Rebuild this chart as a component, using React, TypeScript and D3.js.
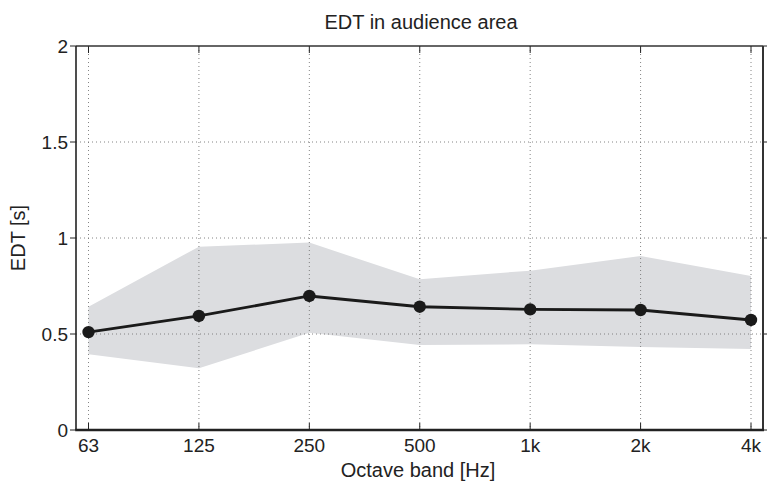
import React from "react";
import * as d3 from "d3";

const bands = ["63", "125", "250", "500", "1k", "2k", "4k"];
const meanEDT = [0.51, 0.594, 0.698, 0.642, 0.628, 0.625, 0.573];
const upperEDT = [0.642, 0.955, 0.976, 0.785, 0.83, 0.906, 0.802];
const lowerEDT = [0.394, 0.321, 0.507, 0.443, 0.446, 0.432, 0.422];
const yTicks = [0, 0.5, 1, 1.5, 2];
const yTickLabels = ["0", "0.5", "1", "1.5", "2"];

const W = 768;
const H = 485;
const left = 76;
const right = 763;
const top = 46;
const bottom = 430;

export default function App() {
  const x = d3.scalePoint<string>().domain(bands).range([88.5, 751]);
  const y = d3.scaleLinear().domain([0, 2]).range([bottom, top]);
  const font = "'Liberation Sans', Arial, Helvetica, sans-serif";

  const rows = bands.map((b, i) => ({ b, m: meanEDT[i], u: upperEDT[i], l: lowerEDT[i] }));
  const area = d3
    .area<any>()
    .x((d) => x(d.b) as number)
    .y0((d) => y(d.l))
    .y1((d) => y(d.u));
  const line = d3
    .line<any>()
    .x((d) => x(d.b) as number)
    .y((d) => y(d.m));

  return (
    <svg
      width={W}
      height={H}
      style={{ position: "absolute", left: 0, top: 0, background: "#fff" }}
      fontFamily={font}
    >
      <rect x={0} y={0} width={W} height={H} fill="#fff" />
      <path d={area(rows) as string} fill="#dcdde0" />
      {/* grid */}
      {bands.map((b) => (
        <line
          key={"gx" + b}
          x1={x(b)}
          x2={x(b)}
          y1={top}
          y2={bottom}
          stroke="#777"
          strokeWidth={0.9}
          strokeDasharray="1,3"
        />
      ))}
      {yTicks.slice(1, -1).map((t) => (
        <line
          key={"gy" + t}
          x1={left}
          x2={right}
          y1={y(t)}
          y2={y(t)}
          stroke="#777"
          strokeWidth={0.9}
          strokeDasharray="1,3"
        />
      ))}
      {/* x ticks inward */}
      {bands.map((b) => (
        <g key={"tx" + b}>
          <line x1={x(b)} x2={x(b)} y1={bottom} y2={bottom - 7} stroke="#222" strokeWidth={1} />
          <line x1={x(b)} x2={x(b)} y1={top} y2={top + 7} stroke="#222" strokeWidth={1} />
          <text
            x={x(b)}
            y={452}
            textAnchor="middle"
            fontSize={19}
            fill="#222"
          >
            {b}
          </text>
        </g>
      ))}
      {/* y ticks */}
      {yTicks.map((t, i) => (
        <g key={"ty" + t}>
          <line x1={left - 6} x2={left} y1={y(t)} y2={y(t)} stroke="#222" strokeWidth={1} />
          <line x1={right} x2={right + 4} y1={y(t)} y2={y(t)} stroke="#222" strokeWidth={1} />
          <text
            x={left - 8}
            y={y(t) + 7}
            textAnchor="end"
            fontSize={19}
            fill="#222"
          >
            {yTickLabels[i]}
          </text>
        </g>
      ))}
      {/* frame */}
      <line x1={left} x2={right} y1={top} y2={top} stroke="#333" strokeWidth={1.5} />
      <line x1={right} x2={right} y1={top} y2={bottom} stroke="#333" strokeWidth={2} />
      <line x1={left} x2={left} y1={top} y2={bottom} stroke="#222" strokeWidth={1.6} />
      <line x1={left - 0.8} x2={right + 1} y1={bottom} y2={bottom} stroke="#222" strokeWidth={2.5} />
      {/* series */}
      <path d={line(rows) as string} fill="none" stroke="#1a1a1a" strokeWidth={2.8} />
      {rows.map((d) => (
        <circle key={"c" + d.b} cx={x(d.b)} cy={y(d.m)} r={6.2} fill="#1a1a1a" />
      ))}
      {/* labels */}
      <text x={421} y={29} textAnchor="middle" fontSize={20} fill="#222">
        EDT in audience area
      </text>
      <text x={418} y={477} textAnchor="middle" fontSize={20} fill="#222">
        Octave band [Hz]
      </text>
      <text
        transform={`translate(25,${(top + bottom) / 2}) rotate(-90)`}
        textAnchor="middle"
        fontSize={20}
        fill="#222"
      >
        EDT [s]
      </text>
    </svg>
  );
}
